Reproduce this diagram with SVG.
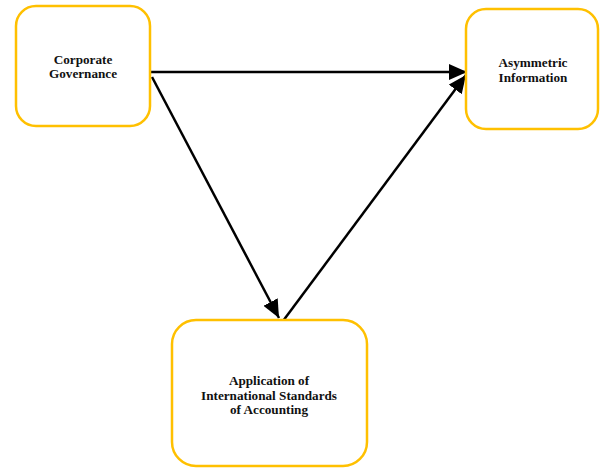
<svg xmlns="http://www.w3.org/2000/svg" width="600" height="468" viewBox="0 0 600 468">
<style>
.box{fill:#fff;stroke:#FFC000;stroke-width:2.5}
.t{font-family:"Liberation Serif","Times New Roman",serif;font-weight:bold;font-size:13.2px;fill:#111;text-anchor:middle}
.c{stroke:#000;stroke-width:2.5;fill:none;marker-end:url(#ah)}
</style>
<defs>
<marker id="ah" markerUnits="userSpaceOnUse" markerWidth="20" markerHeight="16" refX="18" refY="8" orient="auto">
<path d="M0,0 L18,8 L0,16 Z" fill="#000"/>
</marker>
</defs>
<rect width="600" height="468" fill="#fff"/>
<g id="connectors">
<line class="c" x1="150" y1="72" x2="467" y2="72"/>
<line class="c" x1="152" y1="77" x2="279" y2="318"/>
<line class="c" x1="283" y1="321" x2="466" y2="75"/>
</g>
<g id="corporate-governance">
<rect class="box" x="16" y="6" width="134" height="120" rx="20"/>
<text class="t" x="83" y="64">Corporate</text>
<text class="t" x="83" y="78">Governance</text>
</g>
<g id="asymmetric-information">
<rect class="box" x="466" y="9" width="132" height="120" rx="20"/>
<text class="t" x="533" y="67">Asymmetric</text>
<text class="t" x="533" y="82">Information</text>
</g>
<g id="application-ias">
<rect class="box" x="172" y="320" width="195" height="146" rx="24"/>
<text class="t" x="269" y="385">Application of</text>
<text class="t" x="269" y="400">International Standards</text>
<text class="t" x="269" y="414">of Accounting</text>
</g>
</svg>
